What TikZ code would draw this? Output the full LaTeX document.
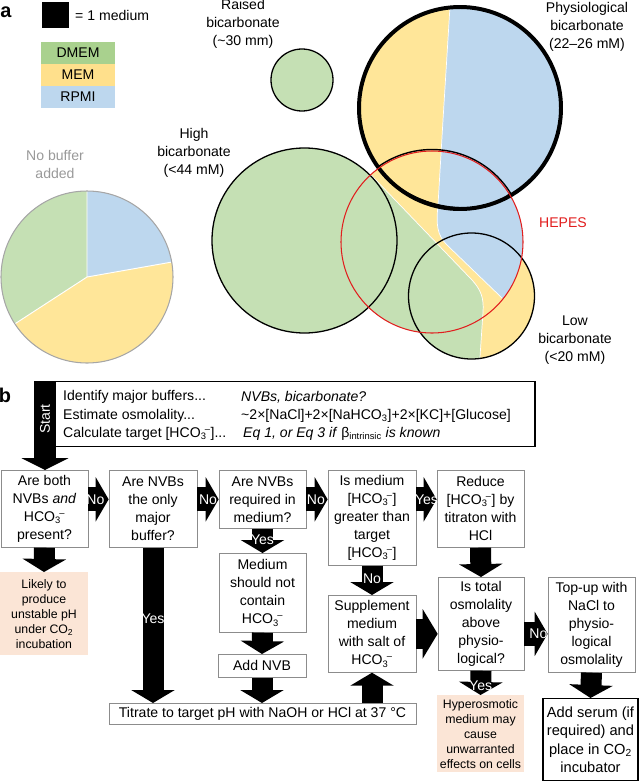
\documentclass[tikz,border=0pt]{standalone}
\usepackage{fontspec}
\setmainfont{Liberation Sans}
\usetikzlibrary{arrows.meta}
\definecolor{mgreen}{RGB}{197,224,180}
\definecolor{myellow}{RGB}{255,230,153}
\definecolor{mblue}{RGB}{189,215,238}
\definecolor{lgreen}{RGB}{169,209,142}
\definecolor{lyellow}{RGB}{255,224,140}
\definecolor{peach}{RGB}{251,229,214}
\definecolor{hepes}{RGB}{225,30,30}
\newcommand{\hcothree}{HCO\textsubscript{3}\kern-0.12em\textsuperscript{–}}

\begin{document}
\begin{tikzpicture}[%
x=0.03cm, y=0.03cm,
txt/.style={font=\fontsize{12}{15.4}\selectfont, align=center, inner sep=0pt},
box/.style={txt, draw=black!45, line width=0.6pt, anchor=north},
note/.style={font=\fontsize{10.5}{12.8}\selectfont, align=center, inner sep=0pt, fill=peach, anchor=north},
harrow/.style={line width=0.72cm, -{Triangle[width=1.32cm,length=0.39cm]}},
varrow/.style={line width=0.63cm, -{Triangle[width=1.29cm,length=0.39cm]}},
lbl/.style={font=\fontsize{12}{12}\selectfont, text=white, inner sep=0pt},
]
\useasboundingbox (0,0) rectangle (640,-781);
%% panel a;
\node[font=\bfseries\fontsize{17}{17}\selectfont, inner sep=0pt] (pa) at (6,-12) {a};
\fill (42,-2) rectangle (69,-28);
\node[txt, anchor=west] (unit) at (75,-15) {= 1 medium};
%% legend;
\fill[lgreen] (41,-42) rectangle (115,-64);
\fill[lyellow] (41,-64) rectangle (115,-86);
\fill[mblue] (41,-86) rectangle (115,-108);
\node[txt] (kd) at (78,-53) {DMEM};
\node[txt] (km) at (78,-75) {MEM};
\node[txt] (kr) at (78,-97) {RPMI};
%% no buffer;
\node[txt, text=black!40] (nobuf) at (55,-164) {No buffer\\added};
\fill[mblue] (87,-277) -- ++(10:86) arc[start angle=10, end angle=90, radius=86] -- cycle;
\fill[mgreen] (87,-277) -- ++(90:86) arc[start angle=90, end angle=213, radius=86] -- cycle;
\fill[myellow] (87,-277) -- ++(213:86) arc[start angle=213, end angle=370, radius=86] -- cycle;
\draw[white, line width=0.8pt] (87,-277) -- ++(10:86) (87,-277) -- ++(90:86) (87,-277) -- ++(213:86);
\draw[black!35, line width=0.9pt] (87,-277) circle (86);
%% raised;
\filldraw[fill=mgreen, line width=1.1pt] (302,-80) circle (31);
%% overlapping media;
\begin{scope}
\clip (304.5,-240.5) circle (92.5) (460,-108) circle (101) (432,-242) circle (91) (471.5,-296) circle (63);
\fill[mgreen] (200,10) rectangle (560,-370);
\fill[myellow] (300,10) -- (620,10) -- (620,-400) -- (480,-400) -- (480,-357) -- (483,-312) .. controls (484,-298) and (481,-290) .. (472,-280) -- (300,-101) -- cycle;
\begin{scope}
\clip (460,-108) circle (101) (432,-242) circle (91);
\fill[mblue] (451,10) -- (443,-120) -- (438,-205) .. controls (436,-225) and (437,-235) .. (447,-245) -- (530,-325) -- (620,-325) -- (620,10) -- cycle;
\end{scope}
\draw[white, line width=0.6pt] (480,-400) -- (480,-357) -- (483,-312) .. controls (484,-298) and (481,-290) .. (472,-280) -- (300,-101);
\draw[white, line width=0.6pt] (451,10) -- (443,-120) -- (438,-205) .. controls (436,-225) and (437,-235) .. (447,-245) -- (502,-298);
\end{scope}
\draw[line width=1.1pt] (304.5,-240.5) circle (92.5);
\draw[line width=1.1pt] (471.5,-296) circle (63);
\draw[line width=3.4pt] (460,-108) circle (101);
\draw[line width=1.2pt] (377.9,-167) arc[start angle=125.8, end angle=32.1, radius=92.5] .. controls (490,-216) and (415,-216) .. (377.9,-167);
\draw[hepes, line width=0.9pt] (432,-242) circle (91);
%% labels;
\node[txt] (raised) at (243,-24) {Raised\\bicarbonate\\(\textasciitilde30 mm)};
\node[txt] (high) at (194,-153) {High\\bicarbonate\\(<44 mM)};
\node[txt] (phys) at (587,-27) {Physiological\\bicarbonate\\(22–26 mM)};
\node[txt, text=hepes] (hep) at (563,-223) {HEPES};
\node[txt] (low) at (575,-340) {Low\\bicarbonate\\(<20 mM)};
%% panel b;
\node[font=\bfseries\fontsize{17}{17}\selectfont, inner sep=0pt] (pb) at (5,-395) {b};
\node[draw, line width=0.9pt, minimum width=14.4cm, minimum height=1.95cm, anchor=north, inner sep=0pt] (steps) at (295,-381) {};
\node[txt, anchor=west] (s1) at (63,-397) {Identify major buffers...};
\node[txt, anchor=west] (s2) at (63,-415.5) {Estimate osmolality...};
\node[txt, anchor=west] (s3) at (63,-434) {Calculate target [\hcothree]...};
\node[txt, anchor=west] (r1) at (241,-397) {\itshape NVBs, bicarbonate?};
\node[txt, anchor=west] (r2) at (241,-415.5) {\textasciitilde2×[NaCl]+2×[NaHCO\textsubscript{3}]+2×[KC]+[Glucose]};
\node[txt, anchor=west] (r3) at (243,-434) {\textit{Eq 1, or Eq 3 if} β\textsubscript{intrinsic} \textit{is known}};
%% questions;
\node[box, minimum width=2.61cm, minimum height=2.31cm] (q1) at (44.5,-470) {Are both\\NVBs \textit{and}\\\hcothree\\present?};
\node[box, minimum width=2.64cm, minimum height=2.31cm] (q2) at (153,-470) {Are NVBs\\the only\\major\\buffer?};
\node[box, minimum width=2.61cm, minimum height=1.74cm] (q3) at (262.5,-470) {Are NVBs\\required in\\medium?};
\node[box, minimum width=2.64cm, minimum height=2.85cm] (q4) at (372,-470) {Is medium\\{}[\hcothree]\\greater than\\target\\{}[\hcothree]};
\node[box, minimum width=2.61cm, minimum height=2.31cm] (q5) at (480.5,-470) {Reduce\\{}[\hcothree] by\\titraton with\\HCl};
%% lower boxes;
\node[note, minimum width=2.64cm, minimum height=2.49cm] (p1) at (44,-572) {Likely to\\produce\\unstable pH\\under CO\textsubscript{2}\\incubation};
\node[box, minimum width=2.61cm, minimum height=2.37cm] (m1) at (262.5,-553) {Medium\\should not\\contain\\\hcothree};
\node[box, minimum width=2.64cm, minimum height=0.69cm] (nvb) at (262,-654) {Add NVB};
\node[box, minimum width=9.21cm, minimum height=0.63cm] (titr) at (262.5,-703) {Titrate to target pH with NaOH or HCl at 37 °C};
\node[box, minimum width=2.64cm, minimum height=2.31cm] (sup) at (372,-595) {Supplement\\medium\\with salt of\\\hcothree};
\node[box, minimum width=2.58cm, minimum height=2.79cm] (tot) at (481,-577) {Is total\\osmolality\\above\\physio-\\logical?};
\node[box, minimum width=2.61cm, minimum height=2.85cm] (top) at (591.5,-577) {Top-up with\\NaCl to\\physio-\\logical\\osmolality};
\node[note, minimum width=2.61cm, minimum height=2.31cm] (hyp) at (480.5,-695) {Hyperosmotic\\medium may\\cause\\unwarranted\\effects on cells};
\node[box, draw=black, line width=1.1pt, minimum width=2.85cm, minimum height=2.46cm, font=\fontsize{12.5}{15.6}\selectfont] (srm) at (590.5,-698) {Add serum (if\\required) and\\place in CO\textsubscript{2}\\incubator};
%% arrows;
\coordinate (go) at (45,-381);
\draw[line width=0.66cm, -{Triangle[width=1.41cm,length=0.36cm]}] (go) -- (go |- q1.north);
\node[lbl, rotate=90] (startlbl) at (45,-419) {Start};
\draw[harrow] (q1.east |- q3) -- (q2.west |- q3) node[lbl, pos=0.35] {No};
\draw[harrow] (q2.east |- q3) -- (q3.west) node[lbl, pos=0.5] {No};
\draw[harrow] (q3.east) -- (q4.west |- q3) node[lbl, pos=0.45] {No};
\draw[harrow] (q4.east |- q3) -- (q5.west |- q3) node[lbl, pos=0.5] {Yes};
\draw[varrow] (q1.south) -- (p1.north);
\draw[varrow] (q2.south) -- (q2.south |- titr.north) node[lbl, pos=0.46] {Yes};
\draw[varrow] (q3.south) -- (m1.north) node[lbl, pos=0.45] {Yes};
\draw[varrow] (m1.south) -- (nvb.north);
\draw[varrow] (nvb.south) -- (nvb.south |- titr.north);
\draw[varrow] (q4.south) -- (sup.north) node[lbl, pos=0.45] {No};
\draw[varrow] (sup.south |- titr.north) -- (sup.south);
\draw[varrow] (q5.south) -- (tot.north);
\draw[line width=0.9cm, -{Triangle[width=1.47cm,length=0.45cm]}] (sup.east) -- (sup.east -| tot.west);
\draw[harrow] (tot.east |- sup.east) -- (top.west |- sup.east) node[lbl, pos=0.6] {No};
\draw[varrow] (tot.south) -- (hyp.north) node[lbl, pos=0.6] {Yes};
\draw[varrow] (top.south) -- (srm.north);
\end{tikzpicture}
\end{document}
